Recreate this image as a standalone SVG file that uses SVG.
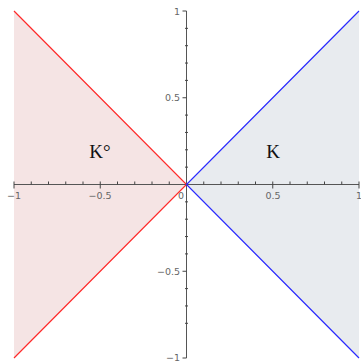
<svg xmlns="http://www.w3.org/2000/svg" width="361" height="363" viewBox="0 0 361 363">
<style>
.axis{stroke:#555;stroke-width:1;fill:none}
.tick{stroke:#444;stroke-width:1}
.lbl{font-family:"DejaVu Sans",sans-serif;font-size:9.5px;fill:#666}
.big{font-family:"Liberation Serif",serif;font-size:19px;fill:#111}
</style>
<rect width="361" height="363" fill="#fff"/>
<g id="polar-cone">
<polygon points="14,11 186.5,184.5 14,358" fill="#f5e4e4"/>
<text class="big" x="100" y="158" text-anchor="middle">K°</text>
</g>
<g id="cone">
<polygon points="359,11 186.5,184.5 359,358" fill="#e8ebef"/>
<text class="big" x="273" y="158" text-anchor="middle">K</text>
</g>
<g id="axes">
<line class="axis" x1="14" y1="184.5" x2="359" y2="184.5"/>
<line class="axis" x1="186.5" y1="11" x2="186.5" y2="358"/>
<path class="tick" d="M14,181.5V188.5 M31.25,181.5V184.5 M48.5,181.5V184.5 M65.75,181.5V184.5 M83,181.5V184.5 M100.25,181.5V188.5 M117.5,181.5V184.5 M134.75,181.5V184.5 M152,181.5V184.5 M169.25,181.5V184.5 M203.75,181.5V184.5 M221,181.5V184.5 M238.25,181.5V184.5 M255.5,181.5V184.5 M272.75,181.5V188.5 M290,181.5V184.5 M307.25,181.5V184.5 M324.5,181.5V184.5 M341.75,181.5V184.5 M359,181.5V188.5"/>
<path class="tick" d="M182.5,11H186.5 M185,28.35H188 M185,45.7H188 M185,63.05H188 M185,80.4H188 M182.5,97.75H186.5 M185,115.1H188 M185,132.45H188 M185,149.8H188 M185,167.15H188 M185,201.85H188 M185,219.2H188 M185,236.55H188 M185,253.9H188 M182.5,271.25H186.5 M185,288.6H188 M185,305.95H188 M185,323.3H188 M182.5,358H186.5"/>
<text class="lbl" x="14" y="199" text-anchor="middle">−1</text>
<text class="lbl" x="100" y="199" text-anchor="middle">−0.5</text>
<text class="lbl" x="181" y="199" text-anchor="middle">0</text>
<text class="lbl" x="273" y="199" text-anchor="middle">0.5</text>
<text class="lbl" x="359" y="199" text-anchor="middle">1</text>
<text class="lbl" x="180" y="15" text-anchor="end">1</text>
<text class="lbl" x="180" y="101" text-anchor="end">0.5</text>
<text class="lbl" x="180" y="275" text-anchor="end">−0.5</text>
<text class="lbl" x="180" y="361" text-anchor="end">−1</text>
</g>
<g id="connectors">
<polyline points="14,11 186.5,184.5 14,358" fill="none" stroke="#ff2a2a" stroke-width="1.2"/>
<polyline points="359,11 186.5,184.5 359,358" fill="none" stroke="#2a2aff" stroke-width="1.2"/>
</g>
</svg>
